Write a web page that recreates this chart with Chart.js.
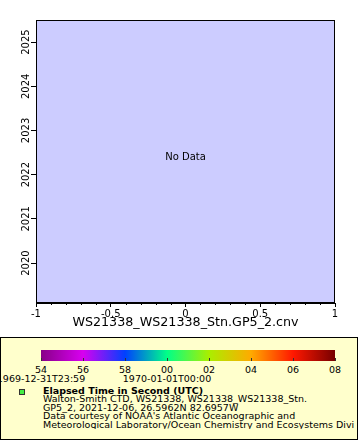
<!DOCTYPE html>
<html>
<head>
<meta charset="utf-8">
<script src="https://cdn.jsdelivr.net/npm/chart.js@4"></script>
<style>
  html, body { margin: 0; padding: 0; background: #fff; }
  body { width: 360px; height: 440px; position: relative; overflow: hidden; font-family: "DejaVu Sans", sans-serif; }
  #plot { position: absolute; left: 0; top: 0; width: 360px; height: 337px; }
  #legend { position: absolute; left: 0; top: 337px; width: 358px; height: 103px; box-sizing: border-box;
            border: 1px solid #000; background: #ffffcc; overflow: hidden; }
  #cbar { position: absolute; left: 40px; top: 12px; width: 294px; height: 11px; }
  .cb-tick { position: absolute; width: 1px; height: 3px; background: #333; top: 20px; }
  .cb-lab { position: absolute; font-size: 9.5px; line-height: 10px; color: #000; white-space: nowrap; transform: translateX(-50%); }
  #swatch { position: absolute; left: 18px; top: 51px; width: 4px; height: 4px; border: 1px solid #333; background: #44ee44; }
  #ltext { position: absolute; left: 42px; top: 48.5px; width: 311px; overflow: hidden; font-size: 9.5px; line-height: 8.6px; color: #000; white-space: nowrap; }
  #ltext b { font-weight: bold; }
</style>
</head>
<body>
<div id="plot"><canvas id="chart"></canvas></div>
<div id="legend">
  <div id="cbar"></div>
  <div id="swatch"></div>
  <div id="ltext"></div>
</div>
<script>
// axis ticks
const yearTicks = [2020, 2021, 2022, 2023, 2024, 2025];
const xTicks = [-1, -0.5, 0, 0.5, 1];
const yRange = [2019.095, 2025.5];
const xRange = [-1, 1];
// colour bar
const colorbarLabels = ['54', '56', '58', '00', '02', '04', '06', '08'];
const timeLabels = ['1969-12-31T23:59', '1970-01-01T00:00'];
const timeLabelAt = [0, 3];
const colorStops = ['#880088', '#d800f0', '#0040ff', '#00ff88', '#aaee00', '#ffaa00', '#ff1800', '#770000'];
// no samples in this file
const seriesPoints = [];
const fileName = 'WS21338_WS21338_Stn.GP5_2.cnv';
const legendLines = [
  'Elapsed Time in Second (UTC)',
  'Walton-Smith CTD, WS21338, WS21338_WS21338_Stn.',
  'GP5_2, 2021-12-06, 26.5962N 82.6957W',
  "Data courtesy of NOAA's Atlantic Oceanographic and",
  'Meteorological Laboratory/Ocean Chemistry and Ecosystems Division'
];

const FONT = '"DejaVu Sans", sans-serif';

// legend box
const cbar = document.getElementById('cbar');
cbar.style.background = 'linear-gradient(to right, ' + colorStops.join(', ') + ')';
const legend = document.getElementById('legend');
const cbLeft = 40, cbW = 294;
colorbarLabels.forEach((t, i) => {
  const x = cbLeft + i * cbW / (colorbarLabels.length - 1);
  const tk = document.createElement('div');
  tk.className = 'cb-tick';
  tk.style.left = Math.round(x) + 'px';
  legend.appendChild(tk);
  const lb = document.createElement('div');
  lb.className = 'cb-lab';
  lb.style.left = x + 'px';
  lb.style.top = '27px';
  lb.textContent = t;
  legend.appendChild(lb);
});
timeLabels.forEach((t, i) => {
  const x = cbLeft + timeLabelAt[i] * cbW / (colorbarLabels.length - 1);
  const lb = document.createElement('div');
  lb.className = 'cb-lab';
  lb.style.left = x + 'px';
  lb.style.top = '35.5px';
  lb.textContent = t;
  legend.appendChild(lb);
});
document.getElementById('ltext').innerHTML = legendLines
  .map((l, i) => i === 0 ? '<b>' + l + '</b>' : l.replace(/&/g, '&amp;'))
  .join('<br>');

// plot background, frame, rotated year labels, minor ticks, "No Data"
const decor = {
  id: 'decor',
  beforeDraw(chart) {
    const { ctx, chartArea: a } = chart;
    ctx.save();
    ctx.fillStyle = '#ccccff';
    ctx.fillRect(a.left, a.top, a.right - a.left, a.bottom - a.top);
    ctx.restore();
  },
  afterDraw(chart) {
    const { ctx, chartArea: a, scales } = chart;
    ctx.save();
    ctx.strokeStyle = '#000';
    ctx.lineWidth = 1;
    ctx.strokeRect(Math.round(a.left) + 0.5, Math.round(a.top) + 0.5, Math.round(a.right - a.left) - 1, Math.round(a.bottom - a.top) - 1);
    // minor ticks on x
    ctx.beginPath();
    for (let k = -10; k <= 10; k++) {
      if (k % 5 === 0) continue;
      const x = Math.round(scales.x.getPixelForValue(k / 10)) + 0.5;
      ctx.moveTo(x, a.bottom);
      ctx.lineTo(x, a.bottom + 2);
    }
    ctx.stroke();
    // year labels, rotated
    ctx.fillStyle = '#000';
    ctx.font = '10px ' + FONT;
    ctx.textAlign = 'center';
    ctx.textBaseline = 'middle';
    yearTicks.forEach(v => {
      const y = scales.y.getPixelForValue(v);
      ctx.save();
      ctx.translate(26.5, y);
      ctx.rotate(-Math.PI / 2);
      ctx.fillText(String(v), 0, 0);
      ctx.restore();
    });
    if (!seriesPoints.length) {
      ctx.fillText('No Data', (a.left + a.right) / 2, 157.5);
    }
    ctx.restore();
  }
};

new Chart(document.getElementById('chart'), {
  type: 'scatter',
  data: { datasets: [{ data: seriesPoints, pointRadius: 2, backgroundColor: '#44ee44' }] },
  options: {
    responsive: true, maintainAspectRatio: false, animation: false,
    layout: { padding: { top: 20, right: 25, left: 0, bottom: 0 } },
    plugins: { legend: { display: false }, tooltip: { enabled: false } },
    scales: {
      x: {
        type: 'linear', min: xRange[0], max: xRange[1],
        afterBuildTicks: s => { s.ticks = xTicks.map(v => ({ value: v })); },
        afterFit: s => { s.height = 34; },
        grid: { drawOnChartArea: false, drawTicks: true, tickLength: 4, color: '#000' },
        border: { display: true, color: '#000' },
        ticks: { color: '#000', font: { family: FONT, size: 10 }, padding: 1.5, maxRotation: 0, autoSkip: false,
                 callback: v => String(v) },
        title: { display: true, text: fileName, color: '#000', font: { family: FONT, size: 12.7 }, padding: { top: 0, bottom: 6.5 } }
      },
      y: {
        type: 'linear', min: yRange[0], max: yRange[1],
        afterBuildTicks: s => { s.ticks = yearTicks.map(v => ({ value: v })); },
        afterFit: s => { s.width = 36; },
        grid: { drawOnChartArea: false, drawTicks: true, tickLength: 5, color: '#000' },
        border: { display: true, color: '#000' },
        ticks: { callback: () => '' }
      }
    }
  },
  plugins: [decor]
});
</script>
</body>
</html>
